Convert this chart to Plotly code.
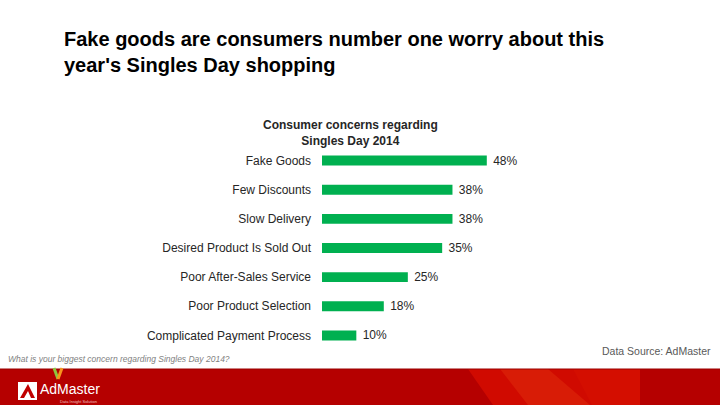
import plotly.graph_objects as go

# Datos del gráfico
concerns = [
    "Fake Goods",
    "Few Discounts",
    "Slow Delivery",
    "Desired Product Is Sold Out",
    "Poor After-Sales Service",
    "Poor Product Selection",
    "Complicated Payment Process",
]
shares = [48, 38, 38, 35, 25, 18, 10]

slide_title = "Fake goods are consumers number one worry about this<br>year's Singles Day shopping"
chart_title = "Consumer concerns regarding<br>Singles Day 2014"
question = "What is your biggest concern regarding Singles Day 2014?"
source = "Data Source: AdMaster"

# Geometría de la diapositiva (píxeles)
W, H = 720, 405
L, T, B = 322, 146, 55
X_MAX = 60
PW = 206
R = W - L - PW
PH = H - T - B
FONT = "Liberation Sans, Arial, sans-serif"


def px(x):
    return (x - L) / PW


def py(y):
    return (H - B - y) / PH


fig = go.Figure()
fig.add_trace(
    go.Bar(
        x=shares,
        y=concerns,
        orientation="h",
        marker=dict(color="#00B050", line=dict(width=0)),
        width=0.34,
        text=[f" {v}%" for v in shares],
        textposition="outside",
        constraintext="none",
        textfont=dict(family=FONT, size=12, color="#262626"),
        cliponaxis=False,
        hoverinfo="skip",
    )
)

# Banda roja del pie
shapes = [
    dict(type="rect", xref="paper", yref="paper", x0=px(0), x1=px(W), y0=py(369), y1=py(H),
         fillcolor="#B50000", line=dict(width=0), layer="below"),
    dict(type="path", xref="paper", yref="paper", layer="below", fillcolor="#D00A00", line=dict(width=0),
         path=f"M {px(468)} {py(369)} L {px(640)} {py(369)} L {px(640)} {py(H)} L {px(493)} {py(H)} Z"),
    dict(type="path", xref="paper", yref="paper", layer="below", fillcolor="#D81C06", line=dict(width=0),
         path=f"M {px(500)} {py(369)} L {px(548)} {py(369)} L {px(590)} {py(H)} L {px(528)} {py(H)} Z"),
    dict(type="path", xref="paper", yref="paper", layer="below", fillcolor="#D40E00", line=dict(width=0),
         path=f"M {px(573)} {py(369)} L {px(640)} {py(369)} L {px(640)} {py(H)} L {px(592)} {py(H)} Z"),
    dict(type="line", xref="paper", yref="paper", x0=px(0), x1=px(W), y0=py(369), y1=py(369),
         line=dict(color="#9A0000", width=1)),
    # logo
    dict(type="rect", xref="paper", yref="paper", x0=px(18), x1=px(37), y0=py(382), y1=py(400),
         fillcolor="white", line=dict(width=0)),
    dict(type="path", xref="paper", yref="paper", fillcolor="#C00000", line=dict(width=0),
         path=f"M {px(20)} {py(398)} L {px(28)} {py(384)} L {px(35)} {py(398)} L {px(31)} {py(398)} "
              f"L {px(28)} {py(391)} L {px(24)} {py(398)} Z"),
    dict(type="line", xref="paper", yref="paper", x0=px(54), x1=px(58), y0=py(368), y1=py(379),
         line=dict(color="#8DC63F", width=3)),
    dict(type="line", xref="paper", yref="paper", x0=px(62), x1=px(58), y0=py(368), y1=py(379),
         line=dict(color="#F7941D", width=3)),
]

annotations = [
    dict(text="<b>" + slide_title + "</b>", xref="paper", yref="paper", x=px(62), y=py(26),
         xanchor="left", yanchor="top", align="left", showarrow=False,
         font=dict(family=FONT, size=20, color="black")),
    dict(text="<b>" + chart_title + "</b>", xref="paper", yref="paper", x=px(350), y=py(116),
         xanchor="center", yanchor="top", align="center", showarrow=False,
         font=dict(family=FONT, size=12, color="#262626")),
    dict(text="<i>" + question + "</i>", xref="paper", yref="paper", x=px(6), y=py(359),
         xanchor="left", yanchor="middle", showarrow=False,
         font=dict(family=FONT, size=8.5, color="#7F7F7F")),
    dict(text=source, xref="paper", yref="paper", x=px(713), y=py(351),
         xanchor="right", yanchor="middle", showarrow=False,
         font=dict(family=FONT, size=10.5, color="#595959")),
    dict(text="AdMaster", xref="paper", yref="paper", x=px(38), y=py(389),
         xanchor="left", yanchor="middle", showarrow=False,
         font=dict(family=FONT, size=14, color="white")),
    dict(text="Data Insight Solution", xref="paper", yref="paper", x=px(58), y=py(401),
         xanchor="left", yanchor="middle", showarrow=False,
         font=dict(family=FONT, size=4, color="#F0C0C0")),
]

fig.update_layout(
    width=W,
    height=H,
    margin=dict(l=L, r=R, t=T, b=B, pad=0),
    paper_bgcolor="white",
    plot_bgcolor="white",
    showlegend=False,
    shapes=shapes,
    annotations=annotations,
    font=dict(family=FONT),
)
fig.update_xaxes(range=[0, X_MAX], visible=False, fixedrange=True)
fig.update_yaxes(
    autorange="reversed",
    showgrid=False,
    zeroline=False,
    showline=False,
    ticks="",
    ticklabelstandoff=10,
    tickfont=dict(family=FONT, size=12, color="#262626"),
    fixedrange=True,
)

# quitar el margen por defecto del body para que la figura ocupe la ventana
fig.write_html(
    "out.html",
    config={"displayModeBar": False},
    post_script="document.body.style.margin='0';",
)
